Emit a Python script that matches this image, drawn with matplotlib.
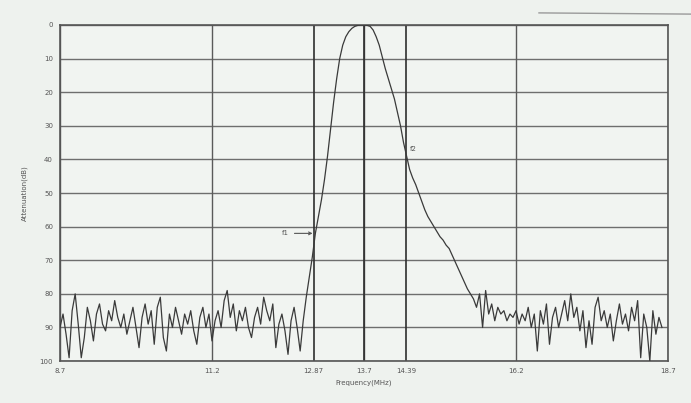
import numpy as np
import matplotlib
matplotlib.use("Agg")
import matplotlib.pyplot as plt
from matplotlib.lines import Line2D

# 衰减曲线数据 (dB), 频率从 8.6 MHz 起每 0.05 MHz 一个点
f_start = 8.6
f_step = 0.05

# 左侧噪声底
att_left = [88, 84, 90, 86, 92, 99, 85, 80, 89, 99, 93, 84, 88, 94, 86, 83, 89, 91, 85, 88,
            82, 87, 90, 86, 92, 88, 84, 90, 96, 87, 83, 89, 85, 95, 84, 81, 93, 97, 86, 90,
            84, 88, 92, 86, 89, 85, 91, 95, 87, 84, 90, 86, 94, 88, 85, 90, 82, 79, 87, 83,
            91, 85, 88, 84, 90, 93, 87, 84, 89, 81, 85, 88, 83, 96, 89, 86, 91, 98, 88, 84,
            90, 97]
# 主瓣
att_main = [88, 81, 75, 69, 62, 57, 52, 46, 39, 31, 23, 16, 10, 6, 3.5, 2, 1, 0.4, 0.1, 0,
            0, 0.1, 0.4, 1.5, 3.5, 6, 9.5, 13, 16, 19, 22, 26, 30, 35, 39, 43, 45.5, 47.5, 50, 52.5,
            55, 57, 58.5, 60, 61.5, 63, 64, 65.5, 66.5, 68.5, 70.5, 72.5, 74.5, 76.5, 78.5, 80, 81.5]
# 右侧噪声底
att_right = [84, 80, 90, 79, 86, 83, 88, 84, 86, 85, 88, 86, 87, 85, 89, 86, 88, 84, 90, 86,
             97, 85, 89, 83, 95, 87, 84, 90, 86, 82, 88, 80, 87, 84, 91, 85, 96, 88, 95, 84,
             81, 88, 85, 90, 86, 94, 88, 83, 89, 86, 91, 84, 88, 82, 99, 86, 90, 100, 85, 92,
             87, 90]

xticks = [8.7, 11.2, 13.7, 16.2, 18.7]
xtick_labels = ["8.7", "11.2", "13.7", "16.2", "18.7"]
marker_freqs = [12.87, 14.39]
marker_labels = ["12.87", "14.39"]
yticks = [0, 10, 20, 30, 40, 50, 60, 70, 80, 90, 100]

att = np.array(att_left + att_main + att_right, dtype=float)
freq = f_start + f_step * np.arange(len(att))

paper = "#eef2ee"
ink = "#3a3a3a"

fig = plt.figure(figsize=(6.91, 4.03), dpi=100, facecolor=paper)
ax = fig.add_axes([0.0868, 0.104, 0.88, 0.834], facecolor="#f1f4f1")

# 网格线
for y in yticks:
    ax.axhline(y, color="#6e6e6e", lw=1.0, zorder=1)
for x in xticks:
    ax.axvline(x, color="#5a5a5a", lw=1.0, zorder=1)
ax.axvline(13.7, color="#2e2e2e", lw=1.2, zorder=2)
for x in marker_freqs:
    ax.axvline(x, color="#2e2e2e", lw=1.2, zorder=2)

ax.plot(freq, att, color=ink, lw=0.9, zorder=3)

ax.set_xlim(8.7, 18.7)
ax.set_ylim(100, 0)
ax.set_yticks(yticks)
ax.set_yticklabels([str(v) for v in yticks], fontsize=5, color="#555555")
ax.set_xticks(xticks + marker_freqs)
ax.set_xticklabels(xtick_labels + marker_labels, fontsize=5, color="#555555")
ax.tick_params(length=0, pad=5)
for s in ax.spines.values():
    s.set_color("#555555")
    s.set_linewidth(1.2)

ax.set_xlabel("Frequency(MHz)", fontsize=5, color="#555555", labelpad=4)
ax.set_ylabel("Attenuation(dB)", fontsize=5, color="#555555", labelpad=8)

# 标注
ax.annotate("f1", xy=(12.9, 62), xytext=(12.35, 62), fontsize=5, color="#555555",
            va="center", arrowprops=dict(arrowstyle="->", color="#555555", lw=0.8))
ax.text(14.45, 37, "f2", fontsize=5, color="#555555", va="center")

# 扫描图右上角的残线
fig.add_artist(Line2D([0.78, 1.0], [0.968, 0.965], color="#9a9a9a", lw=1.0))

fig.savefig("out.png", dpi=100, facecolor=paper)
